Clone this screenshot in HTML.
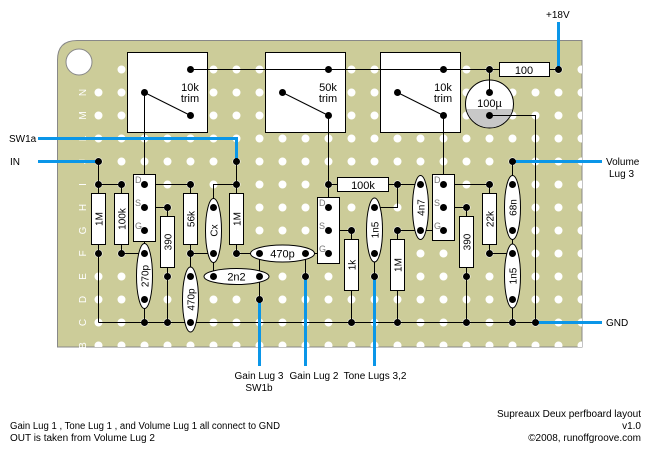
<!DOCTYPE html>
<html><head><meta charset="utf-8"><style>
html,body{margin:0;padding:0;background:#fff;}
svg{display:block;}
text{font-family:"Liberation Sans",sans-serif;font-size:10px;fill:#000;}
</style></head><body>
<svg width="650" height="450" viewBox="0 0 650 450" xmlns="http://www.w3.org/2000/svg">
<defs>
<clipPath id="capbot"><rect x="460" y="109" width="60" height="30"/></clipPath>
<clipPath id="board"><rect x="57" y="40" width="525" height="307"/></clipPath>
</defs>
<!-- board -->
<path d="M57.5,347 L57.5,60 Q57.5,40.5 77,40.5 L582,40.5 L582,347 Z" fill="#cccc99" stroke="#888" stroke-width="1"/>
<g stroke="#fff" stroke-width="8" stroke-linecap="round" stroke-dasharray="0 23" fill="none" clip-path="url(#board)">
<path d="M121.5,69.5H600"/>
<path d="M98.5,92.5H600"/>
<path d="M98.5,115.5H600"/>
<path d="M98.5,138.5H600"/>
<path d="M98.5,161.5H600"/>
<path d="M98.5,184.5H600"/>
<path d="M98.5,207.5H600"/>
<path d="M98.5,230.5H600"/>
<path d="M98.5,253.5H600"/>
<path d="M98.5,276.5H600"/>
<path d="M98.5,299.5H600"/>
<path d="M98.5,322.5H600"/>
<path d="M98.5,345.5H600"/>
</g>
<circle cx="79" cy="62" r="13" fill="#fff" stroke="#888" stroke-width="1"/>
<!-- row letters -->
<g style="font-size:10px">
<text transform="translate(86,92.5) rotate(-90)" text-anchor="middle" style="fill:#fff">N</text>
<text transform="translate(86,115.5) rotate(-90)" text-anchor="middle" style="fill:#fff">M</text>
<text transform="translate(86,138.5) rotate(-90)" text-anchor="middle" style="fill:#fff">L</text>
<text transform="translate(86,161.5) rotate(-90)" text-anchor="middle" style="fill:#fff">J</text>
<text transform="translate(86,184.5) rotate(-90)" text-anchor="middle" style="fill:#fff">I</text>
<text transform="translate(86,207.5) rotate(-90)" text-anchor="middle" style="fill:#fff">H</text>
<text transform="translate(86,230.5) rotate(-90)" text-anchor="middle" style="fill:#fff">G</text>
<text transform="translate(86,253.5) rotate(-90)" text-anchor="middle" style="fill:#fff">F</text>
<text transform="translate(86,276.5) rotate(-90)" text-anchor="middle" style="fill:#fff">E</text>
<text transform="translate(86,299.5) rotate(-90)" text-anchor="middle" style="fill:#fff">D</text>
<text transform="translate(86,322.5) rotate(-90)" text-anchor="middle" style="fill:#fff">C</text>
<text transform="translate(86,345.5) rotate(-90)" text-anchor="middle" style="fill:#fff">B</text>
</g>

<!-- trimmers -->
<g fill="#fff" stroke="#000" stroke-width="1">
<rect x="127.5" y="52.5" width="80" height="80"/>
<rect x="265.5" y="52.5" width="80" height="80"/>
<rect x="380.5" y="52.5" width="80" height="80"/>
</g>
<text x="190" y="91" text-anchor="middle" style="font-size:11px">10k</text>
<text x="190" y="102" text-anchor="middle" style="font-size:11px">trim</text>
<text x="328" y="91" text-anchor="middle" style="font-size:11px">50k</text>
<text x="328" y="102" text-anchor="middle" style="font-size:11px">trim</text>
<text x="443" y="91" text-anchor="middle" style="font-size:11px">10k</text>
<text x="443" y="102" text-anchor="middle" style="font-size:11px">trim</text>

<!-- 100u cap -->
<circle cx="489.5" cy="104" r="24" fill="#fff" stroke="#000"/>
<circle cx="489.5" cy="104" r="23.5" fill="#c8c8c8" clip-path="url(#capbot)"/>
<text x="489.5" y="107" text-anchor="middle" style="font-size:11px">100µ</text>

<!-- wires -->
<g stroke="#000" stroke-width="1" fill="none">
<path d="M190.5,69.5H489.5"/>
<path d="M489.5,69.5V92.5"/>
<path d="M489.5,69.5H558.5"/>
<path d="M144.5,92.5L190.5,115.5M282.5,92.5L328.5,115.5M397.5,92.5L443.5,115.5"/>
<path d="M144.5,92.5V184.5M144.5,230.5V322.5"/>
<path d="M328.5,115.5V207.5M443.5,115.5V184.5"/>
<path d="M489.5,115.5H535.5V322.5"/>
<path d="M98.5,161.5V322.5M98.5,184.5H121.5V253.5H144.5"/>
<path d="M144.5,184.5H190.5V322.5M190.5,253.5H213.5"/>
<path d="M144.5,207.5H167.5V322.5"/>
<path d="M98.5,322.5H535.5"/>
<path d="M236.5,161.5V253.5M236.5,184.5H213.5V276.5M213.5,276.5H259.5"/>
<path d="M236.5,253.5H328.5M259.5,253.5V299.5M305.5,253.5V276.5"/>
<path d="M328.5,230.5H351.5V322.5"/>
<path d="M328.5,184.5H420.5M397.5,184.5V207.5H374.5V276.5"/>
<path d="M397.5,230.5H443.5M397.5,230.5V322.5M420.5,184.5V230.5"/>
<path d="M443.5,184.5H489.5V253.5H512.5M443.5,207.5H466.5V322.5"/>
<path d="M512.5,161.5V322.5"/>
</g>

<!-- blue wires -->
<g stroke="#0a96e8" stroke-width="3" fill="none">
<path d="M38,138.5H236.5V161.5"/>
<path d="M38,161.5H98.5"/>
<path d="M512.5,161.5H602"/>
<path d="M535.5,322.5H602"/>
<path d="M558.5,22V69.5"/>
<path d="M259.5,299.5V366"/>
<path d="M305.5,276.5V366"/>
<path d="M374.5,276.5V366"/>
</g>

<!-- resistors -->
<g fill="#fff" stroke="#000" stroke-width="1">
<rect x="499.5" y="62.5" width="50" height="14"/>
<rect x="91.5" y="193.5" width="14" height="51"/>
<rect x="114.5" y="193.5" width="14" height="51"/>
<rect x="183.5" y="193.5" width="14" height="51"/>
<rect x="229.5" y="193.5" width="14" height="51"/>
<rect x="160.5" y="216.5" width="14" height="51"/>
<rect x="344.5" y="239.5" width="14" height="51"/>
<rect x="390.5" y="239.5" width="14" height="51"/>
<rect x="459.5" y="216.5" width="14" height="51"/>
<rect x="482.5" y="193.5" width="14" height="51"/>
<rect x="337.5" y="177.5" width="51" height="14"/>
<rect x="133.5" y="174.5" width="22" height="67"/>
<rect x="317.5" y="197.5" width="22" height="66"/>
<rect x="432.5" y="174.5" width="22" height="66"/>
<ellipse cx="144.5" cy="276" rx="8" ry="32.5"/>
<ellipse cx="190.5" cy="299.5" rx="8" ry="32.5"/>
<ellipse cx="213.5" cy="230.5" rx="8" ry="32"/>
<ellipse cx="374.5" cy="230" rx="8" ry="32"/>
<ellipse cx="420.5" cy="207.5" rx="8" ry="32"/>
<ellipse cx="512.5" cy="207.5" rx="8" ry="32"/>
<ellipse cx="512.5" cy="276" rx="8" ry="32"/>
<ellipse cx="236.5" cy="276.5" rx="32.5" ry="8"/>
<ellipse cx="282.5" cy="253.5" rx="32" ry="8.5"/>
</g>
<text x="524" y="74" text-anchor="middle" style="font-size:11px">100</text>
<text x="363" y="189" text-anchor="middle" style="font-size:11px">100k</text>
<text x="236.5" y="280.5" text-anchor="middle" style="font-size:11px">2n2</text>
<text x="282.5" y="257.5" text-anchor="middle" style="font-size:11px">470p</text>
<g style="font-size:10px">
<text transform="translate(102.5,219) rotate(-90)" text-anchor="middle">1M</text>
<text transform="translate(125.5,219) rotate(-90)" text-anchor="middle">100k</text>
<text transform="translate(194.5,219) rotate(-90)" text-anchor="middle">56k</text>
<text transform="translate(240.5,219) rotate(-90)" text-anchor="middle">1M</text>
<text transform="translate(171.5,242) rotate(-90)" text-anchor="middle">390</text>
<text transform="translate(355.5,265) rotate(-90)" text-anchor="middle">1k</text>
<text transform="translate(401.5,265) rotate(-90)" text-anchor="middle">1M</text>
<text transform="translate(470.5,242) rotate(-90)" text-anchor="middle">390</text>
<text transform="translate(493.5,219) rotate(-90)" text-anchor="middle">22k</text>
<text transform="translate(148.5,276) rotate(-90)" text-anchor="middle">270p</text>
<text transform="translate(194.5,299.5) rotate(-90)" text-anchor="middle">470p</text>
<text transform="translate(217.5,230.5) rotate(-90)" text-anchor="middle">Cx</text>
<text transform="translate(378.5,230) rotate(-90)" text-anchor="middle">1n5</text>
<text transform="translate(424.5,207.5) rotate(-90)" text-anchor="middle">4n7</text>
<text transform="translate(516.5,207.5) rotate(-90)" text-anchor="middle">68n</text>
<text transform="translate(516.5,276) rotate(-90)" text-anchor="middle">1n5</text>
</g>
<text x="135" y="183" style="fill:#777;font-size:9px">D</text>
<text x="135" y="206" style="fill:#777;font-size:9px">S</text>
<text x="135" y="229" style="fill:#777;font-size:9px">G</text>
<text x="319" y="206" style="fill:#777;font-size:9px">D</text>
<text x="319" y="229" style="fill:#777;font-size:9px">S</text>
<text x="319" y="252" style="fill:#777;font-size:9px">G</text>
<text x="434" y="183" style="fill:#777;font-size:9px">D</text>
<text x="434" y="206" style="fill:#777;font-size:9px">S</text>
<text x="434" y="229" style="fill:#777;font-size:9px">G</text>

<!-- dots -->
<g fill="#000">
<circle cx="190.5" cy="69.5" r="3.5"/><circle cx="328.5" cy="69.5" r="3.5"/><circle cx="443.5" cy="69.5" r="3.5"/><circle cx="489.5" cy="69.5" r="3.5"/><circle cx="558.5" cy="69.5" r="3.5"/>
<circle cx="144.5" cy="92.5" r="3.5"/><circle cx="282.5" cy="92.5" r="3.5"/><circle cx="397.5" cy="92.5" r="3.5"/><circle cx="489.5" cy="92.5" r="3.5"/>
<circle cx="190.5" cy="115.5" r="3.5"/><circle cx="328.5" cy="115.5" r="3.5"/><circle cx="443.5" cy="115.5" r="3.5"/><circle cx="489.5" cy="115.5" r="3.5"/>
<circle cx="98.5" cy="161.5" r="3.5"/><circle cx="236.5" cy="161.5" r="3.5"/><circle cx="512.5" cy="161.5" r="3.5"/>
<circle cx="98.5" cy="184.5" r="3.5"/><circle cx="121.5" cy="184.5" r="3.5"/><circle cx="144.5" cy="184.5" r="3.5"/><circle cx="190.5" cy="184.5" r="3.5"/><circle cx="236.5" cy="184.5" r="3.5"/><circle cx="328.5" cy="184.5" r="3.5"/><circle cx="397.5" cy="184.5" r="3.5"/><circle cx="420.5" cy="184.5" r="3.5"/><circle cx="443.5" cy="184.5" r="3.5"/><circle cx="489.5" cy="184.5" r="3.5"/><circle cx="512.5" cy="184.5" r="3.5"/>
<circle cx="144.5" cy="207.5" r="3.5"/><circle cx="167.5" cy="207.5" r="3.5"/><circle cx="213.5" cy="207.5" r="3.5"/><circle cx="328.5" cy="207.5" r="3.5"/><circle cx="374.5" cy="207.5" r="3.5"/><circle cx="443.5" cy="207.5" r="3.5"/><circle cx="466.5" cy="207.5" r="3.5"/>
<circle cx="144.5" cy="230.5" r="3.5"/><circle cx="328.5" cy="230.5" r="3.5"/><circle cx="351.5" cy="230.5" r="3.5"/><circle cx="397.5" cy="230.5" r="3.5"/><circle cx="420.5" cy="230.5" r="3.5"/><circle cx="443.5" cy="230.5" r="3.5"/><circle cx="512.5" cy="230.5" r="3.5"/>
<circle cx="98.5" cy="253.5" r="3.5"/><circle cx="121.5" cy="253.5" r="3.5"/><circle cx="144.5" cy="253.5" r="3.5"/><circle cx="190.5" cy="253.5" r="3.5"/><circle cx="213.5" cy="253.5" r="3.5"/><circle cx="236.5" cy="253.5" r="3.5"/><circle cx="259.5" cy="253.5" r="3.5"/><circle cx="305.5" cy="253.5" r="3.5"/><circle cx="328.5" cy="253.5" r="3.5"/><circle cx="374.5" cy="253.5" r="3.5"/><circle cx="489.5" cy="253.5" r="3.5"/><circle cx="512.5" cy="253.5" r="3.5"/>
<circle cx="167.5" cy="276.5" r="3.5"/><circle cx="190.5" cy="276.5" r="3.5"/><circle cx="213.5" cy="276.5" r="3.5"/><circle cx="259.5" cy="276.5" r="3.5"/><circle cx="305.5" cy="276.5" r="3.5"/><circle cx="374.5" cy="276.5" r="3.5"/><circle cx="466.5" cy="276.5" r="3.5"/>
<circle cx="144.5" cy="299.5" r="3.5"/><circle cx="259.5" cy="299.5" r="3.5"/><circle cx="512.5" cy="299.5" r="3.5"/>
<circle cx="144.5" cy="322.5" r="3.5"/><circle cx="167.5" cy="322.5" r="3.5"/><circle cx="190.5" cy="322.5" r="3.5"/><circle cx="351.5" cy="322.5" r="3.5"/><circle cx="397.5" cy="322.5" r="3.5"/><circle cx="466.5" cy="322.5" r="3.5"/><circle cx="512.5" cy="322.5" r="3.5"/><circle cx="535.5" cy="322.5" r="3.5"/>
</g>

<!-- external labels -->
<text x="9" y="142">SW1a</text>
<text x="10" y="165">IN</text>
<text x="606" y="165">Volume</text>
<text x="609" y="177">Lug 3</text>
<text x="606" y="326">GND</text>
<text x="546" y="18">+18V</text>
<text x="259" y="379" text-anchor="middle">Gain Lug 3</text>
<text x="259" y="391" text-anchor="middle">SW1b</text>
<text x="314" y="379" text-anchor="middle">Gain Lug 2</text>
<text x="375" y="379" text-anchor="middle">Tone Lugs 3,2</text>
<text x="10" y="429" textLength="270" lengthAdjust="spacingAndGlyphs">Gain Lug 1 , Tone Lug 1 , and Volume Lug 1 all connect to GND</text>
<text x="10" y="441">OUT is taken from Volume Lug 2</text>
<text x="641" y="417" text-anchor="end">Supreaux Deux perfboard layout</text>
<text x="641" y="429" text-anchor="end">v1.0</text>
<text x="641" y="441" text-anchor="end">©2008, runoffgroove.com</text>
</svg>
</body></html>
